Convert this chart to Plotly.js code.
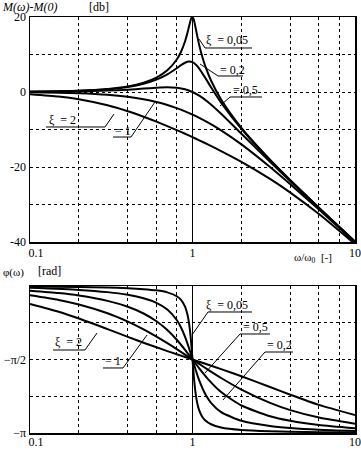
<!DOCTYPE html>
<html>
<head>
<meta charset="utf-8">
<script src="https://cdn.plot.ly/plotly-3.0.1.min.js"></script>
<style>html,body{margin:0;padding:0;background:#fff;}#chart{width:361px;height:450px;}</style>
</head>
<body>
<div id="chart"></div>
<script>
// ---- data ----
const zetaNames = ['2', '1', '0,5', '0,2', '0,05'];

const wCoarse = [0.1, 0.15, 0.2, 0.3, 0.4, 0.5, 0.6, 0.7, 0.8, 0.9, 1, 1.1, 1.25, 1.5, 2, 3, 4, 6, 10];
const wMed = [0.1, 0.2, 0.3, 0.4, 0.5, 0.6, 0.7, 0.8, 0.85, 0.9, 0.95, 1, 1.05, 1.1, 1.2, 1.3, 1.5, 2, 3, 4, 6, 10];
const wFine = [0.1, 0.2, 0.3, 0.4, 0.5, 0.6, 0.7, 0.8, 0.85, 0.9, 0.93, 0.95, 0.97, 0.98, 0.99, 1, 1.01, 1.02, 1.03, 1.05, 1.07, 1.1, 1.15, 1.2, 1.3, 1.5, 2, 3, 4, 6, 10];

// magnitude M(w)-M(0) [dB]
const magZ2 = [-0.569, -1.191, -1.936, -3.557, -5.140, -6.592, -7.903, -9.085, -10.158, -11.138, -12.041, -12.879, -14.034, -15.748, -18.633, -23.181, -26.822, -32.555, -40.569];
const magZ1 = [-0.086, -0.193, -0.341, -0.749, -1.289, -1.938, -2.671, -3.464, -4.297, -5.154, -6.021, -6.888, -8.173, -10.238, -13.979, -20.000, -24.609, -31.364, -40.086];
const magZ05 = [0.043, 0.097, 0.170, 0.371, 0.627, 0.902, 1.137, 1.249, 1.137, 0.726, 0.000, -0.983, -2.739, -5.812, -11.139, -18.633, -23.820, -31.007, -39.957];
const magZ02 = [0.080, 0.325, 0.744, 1.360, 2.201, 3.305, 4.704, 6.345, 7.153, 7.807, 8.127, 7.959, 7.284, 6.240, 3.726, 1.270, -2.839, -9.841, -18.158, -23.571, -30.902, -39.920];
const magZ005 = [0.087, 0.353, 0.814, 1.505, 2.480, 3.838, 5.768, 8.665, 10.745, 13.546, 15.702, 17.321, 18.893, 19.519, 19.915, 20.000, 19.745, 19.195, 18.441, 16.669, 14.889, 12.503, 9.310, 6.819, 3.072, -2.000, -9.562, -18.068, -23.525, -30.883, -39.913];

// phase [rad]
const phZ2 = [-0.384, -0.551, -0.695, -0.922, -1.087, -1.212, -1.310, -1.391, -1.459, -1.518, -1.571, -1.618, -1.683, -1.776, -1.930, -2.159, -2.324, -2.541, -2.758];
const phZ1 = [-0.199, -0.298, -0.395, -0.583, -0.761, -0.927, -1.081, -1.221, -1.349, -1.466, -1.571, -1.666, -1.792, -1.966, -2.214, -2.498, -2.652, -2.811, -2.942];
const phZ05 = [-0.101, -0.152, -0.205, -0.318, -0.444, -0.588, -0.753, -0.941, -1.148, -1.363, -1.571, -1.759, -1.994, -2.266, -2.554, -2.783, -2.881, -2.972, -3.041];
const phZ02 = [-0.040, -0.083, -0.131, -0.188, -0.261, -0.359, -0.502, -0.727, -0.886, -1.085, -1.320, -1.571, -1.810, -2.016, -2.313, -2.496, -2.694, -2.881, -2.993, -3.035, -3.073, -3.101];
const phZ005 = [-0.010, -0.021, -0.033, -0.048, -0.067, -0.093, -0.136, -0.219, -0.297, -0.442, -0.603, -0.772, -1.023, -1.187, -1.372, -1.571, -1.767, -1.948, -2.105, -2.344, -2.506, -2.659, -2.799, -2.875, -2.955, -3.022, -3.075, -3.104, -3.115, -3.124, -3.131];

const xTickVals = [0.1, 1, 10];
const xTickText = ['\u2007\u20070.1', '1', '10'];
const xMinorVals = [0.2, 0.4, 0.6, 0.8, 2, 4, 6, 8];
const magTickVals = [-40, -20, 0, 20];
const magTickText = ['-40', '-20', '0', '20'];
const magMinorVals = [-30, -10, 10];
const PI = Math.PI;
const phTickVals = [-PI, -PI / 2];
const phTickText = ['\u2212\u03c0', '\u2212\u03c0/2'];
const phMinorVals = [-3 * PI / 4, -PI / 4];

// ---- figure ----
const serif = 'Liberation Serif, Times New Roman, serif';
const lineStyle = {color: '#000', width: 2, shape: 'spline', smoothing: 0.6};

const series = [
  [wCoarse, magZ2, phZ2],
  [wCoarse, magZ1, phZ1],
  [wCoarse, magZ05, phZ05],
  [wMed, magZ02, phZ02],
  [wFine, magZ005, phZ005]
];
const traces = [];
series.forEach((s, i) => {
  traces.push({x: s[0], y: s[1], xaxis: 'x', yaxis: 'y', mode: 'lines', line: lineStyle, name: zetaNames[i]});
  traces.push({x: s[0], y: s[2], xaxis: 'x2', yaxis: 'y2', mode: 'lines', line: lineStyle, name: zetaNames[i]});
});

const L = 30, R = 6, T = 17, B = 17, W = 361, H = 450;
const PW = W - L - R, PH = H - T - B;
const X = px => (px - L) / PW;
const Y = py => (H - B - py) / PH;

const tickFont = {family: serif, size: 12, color: '#000'};

function xAxis(anchor, standoff) {
  return {
    type: 'log', range: [-1, 1], anchor: anchor,
    tickmode: 'array', tickvals: xTickVals, ticktext: xTickText,
    showgrid: true, gridcolor: '#000', gridwidth: 1,
    minor: {tickmode: 'array', tickvals: xMinorVals, showgrid: true, gridcolor: '#000', griddash: 'dot', gridwidth: 1, ticks: ''},
    showline: true, mirror: true, linecolor: '#000', linewidth: 1.5,
    ticks: '', zeroline: false, ticklabelstandoff: standoff,
    tickfont: tickFont
  };
}
function yAxis(range, domain, anchor, vals, text, minorVals) {
  return {
    range: range, domain: domain, anchor: anchor,
    tickmode: 'array', tickvals: vals, ticktext: text,
    showgrid: true, gridcolor: '#000', griddash: 'dot', gridwidth: 1,
    minor: {tickmode: 'array', tickvals: minorVals, showgrid: true, gridcolor: '#000', griddash: 'dot', gridwidth: 1, ticks: ''},
    showline: true, mirror: true, linecolor: '#000', linewidth: 1.5,
    ticks: '', zeroline: false, ticklabelstandoff: 0,
    tickfont: tickFont
  };
}

const labels = [
  {t: 'ξ  = 0,05', x: 204, y: 40},
  {t: '= 0,2', x: 218, y: 70},
  {t: '= 0,5', x: 231, y: 90},
  {t: 'ξ  = 2', x: 47, y: 120},
  {t: '= 1', x: 113, y: 131},
  {t: 'ξ  = 2', x: 53, y: 342},
  {t: '= 1', x: 103, y: 361},
  {t: 'ξ  = 0,05', x: 204, y: 305},
  {t: '= 0,5', x: 241, y: 327},
  {t: '= 0,2', x: 265, y: 345}
];
const leaders = [
  [[199, 39], [205, 48], [252, 48]],
  [[200, 64], [218, 76], [243, 76]],
  [[220, 106], [230, 97], [262, 97]],
  [[46, 127], [105, 127], [114, 114]],
  [[113, 137], [131, 137], [155, 102]],
  [[53, 350], [85, 350], [97, 333]],
  [[103, 368], [123, 368], [147, 335]],
  [[192, 335], [208, 312], [252, 312]],
  [[205, 373], [240, 334], [270, 334]],
  [[223, 400], [265, 352], [293, 352]]
];

const annotations = labels.map(l => ({
  text: l.t, xref: 'paper', yref: 'paper', x: X(l.x), y: Y(l.y),
  xanchor: 'left', yanchor: 'middle', showarrow: false,
  font: {family: serif, size: 12, color: '#000'}
}));
annotations.push(
  {text: '<i>M(ω)-M(0)</i>', xref: 'paper', yref: 'paper', x: X(0), y: Y(7), xanchor: 'left', yanchor: 'middle', showarrow: false, font: {family: serif, size: 12, color: '#000'}},
  {text: '[db]', xref: 'paper', yref: 'paper', x: X(87), y: Y(7), xanchor: 'left', yanchor: 'middle', showarrow: false, font: {family: serif, size: 12, color: '#000'}},
  {text: 'ω/ω<sub>0</sub>  [-]', xref: 'paper', yref: 'paper', x: X(292), y: Y(258), xanchor: 'left', yanchor: 'middle', showarrow: false, font: {family: serif, size: 11, color: '#000'}},
  {text: 'φ(ω)', xref: 'paper', yref: 'paper', x: X(1), y: Y(272), xanchor: 'left', yanchor: 'middle', showarrow: false, font: {family: serif, size: 11, color: '#000'}},
  {text: '[rad]', xref: 'paper', yref: 'paper', x: X(36), y: Y(271), xanchor: 'left', yanchor: 'middle', showarrow: false, font: {family: serif, size: 12, color: '#000'}}
);

const shapes = leaders.map(p => ({
  type: 'path', xref: 'paper', yref: 'paper',
  path: 'M' + p.map(q => X(q[0]).toFixed(4) + ',' + Y(q[1]).toFixed(4)).join(' L'),
  line: {color: '#000', width: 1}
}));

const layout = {
  width: W, height: H,
  margin: {l: L, r: R, t: T, b: B, pad: 0},
  paper_bgcolor: '#fff', plot_bgcolor: '#fff',
  showlegend: false,
  font: {family: serif, size: 12, color: '#000'},
  xaxis: xAxis('y', -1),
  xaxis2: xAxis('y2', -3),
  yaxis: yAxis([-40, 20], [Y(242), 1], 'x', magTickVals, magTickText, magMinorVals),
  yaxis2: yAxis([-PI, 0], [0, Y(286)], 'x2', phTickVals, phTickText, phMinorVals),
  annotations: annotations,
  shapes: shapes
};

Plotly.newPlot('chart', traces, layout, {staticPlot: true, displayModeBar: false});
</script>
</body>
</html>
